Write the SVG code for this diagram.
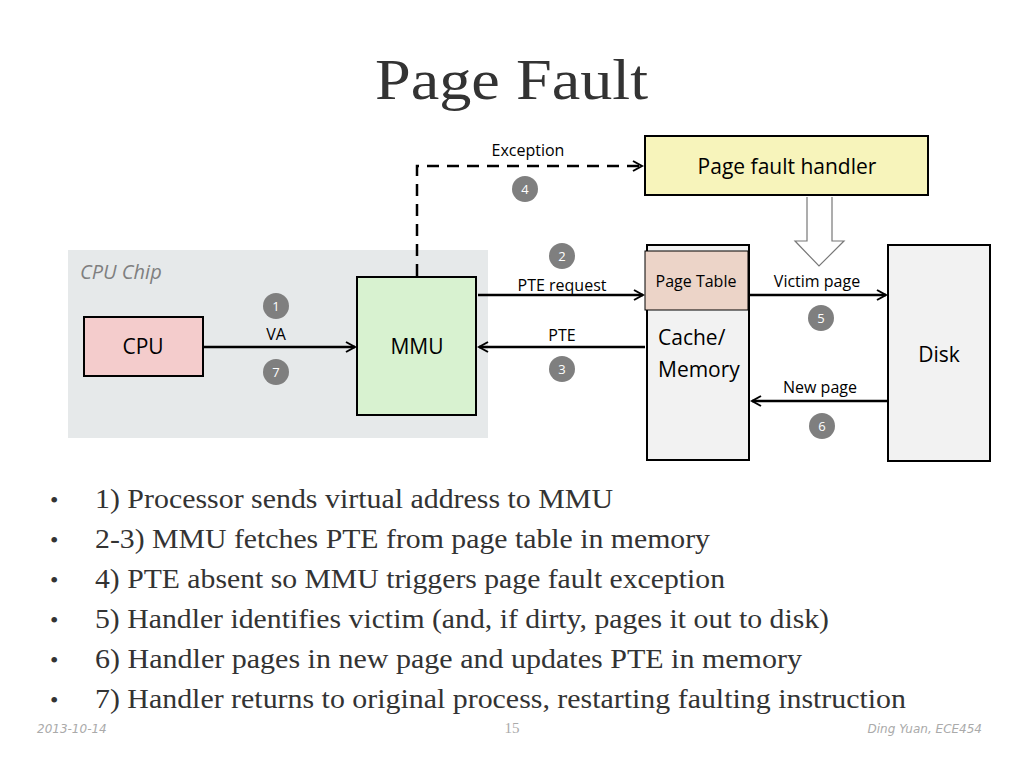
<svg xmlns="http://www.w3.org/2000/svg" width="1024" height="768" viewBox="0 0 1024 768">
<style>
.s{font-family:"Open Sans","Liberation Sans",sans-serif;fill:#000}
.t{font-family:"Liberation Serif",serif;fill:#333}
.box{stroke:#000;stroke-width:2}
.c{fill:#7f7f7f}
.n{font-family:"Open Sans","Liberation Sans",sans-serif;font-size:13px;fill:#fff;text-anchor:middle}
.ln{stroke:#000;stroke-width:2.5;fill:none}
</style>
<defs><marker id="a" markerWidth="12" markerHeight="12" refX="10" refY="6" orient="auto" markerUnits="userSpaceOnUse"><path d="M1,1 L10,6 L1,11" fill="none" stroke="#000" stroke-width="2"/></marker></defs>
<rect width="1024" height="768" fill="#fff"/>
<text class="t" x="375" y="99" font-size="58" textLength="273" lengthAdjust="spacingAndGlyphs">Page Fault</text>
<g id="chip"><rect x="68" y="250" width="420" height="188" fill="#e6e9ea"/><text class="s" x="80" y="279" font-size="20" font-style="italic" style="fill:#7f7f7f">CPU Chip</text></g>
<g id="cpu"><rect class="box" x="84" y="317" width="119" height="59" fill="#f4cccc" stroke-width="1"/><text class="s" x="143" y="354" font-size="21" text-anchor="middle">CPU</text></g>
<g id="mmu"><rect class="box" x="357" y="277" width="119" height="138" fill="#d8f2d0" stroke-width="1"/><text class="s" x="417" y="354" font-size="21" text-anchor="middle">MMU</text></g>
<g id="handler"><rect class="box" x="645" y="136" width="283" height="59" fill="#f7f4bb" stroke-width="1"/><text class="s" x="787" y="174" font-size="21" text-anchor="middle">Page fault handler</text></g>
<g id="mem"><rect class="box" x="647" y="245" width="102" height="215" fill="#f2f2f2"/><text class="s" x="658" y="345" font-size="21">Cache/</text><text class="s" x="658" y="377" font-size="21">Memory</text></g>
<g id="pt"><rect x="645" y="251" width="103" height="59" fill="#ecd4c8" stroke="#000" stroke-width="1"/><text class="s" x="696" y="287" font-size="16" text-anchor="middle">Page Table</text></g>
<g id="disk"><rect class="box" x="888" y="245" width="102" height="216" fill="#f2f2f2"/><text class="s" x="939" y="362" font-size="21" text-anchor="middle">Disk</text></g>
<g id="connectors">
<path class="ln" d="M203,347 H355" marker-end="url(#a)"/>
<path class="ln" d="M645,347 H479" marker-end="url(#a)"/>
<path class="ln" d="M478,295 H643" marker-end="url(#a)"/>
<path class="ln" stroke-dasharray="12,8" d="M417,276 V166 H642" marker-end="url(#a)"/>
<path class="ln" d="M750,295 H886" marker-end="url(#a)"/>
<path class="ln" d="M888,401 H752" marker-end="url(#a)"/>
<path d="M807,197 V241 H795 L819,266 L844,241 H832 V197" fill="#fff" stroke="#777" stroke-width="1.2"/>
</g>
<g id="labels">
<text class="s" x="528" y="156" font-size="16" text-anchor="middle">Exception</text>
<text class="s" x="562" y="291" font-size="16" text-anchor="middle">PTE request</text>
<text class="s" x="562" y="341" font-size="16" text-anchor="middle">PTE</text>
<text class="s" x="276" y="340" font-size="16" text-anchor="middle">VA</text>
<text class="s" x="817" y="287" font-size="16" text-anchor="middle">Victim page</text>
<text class="s" x="820" y="393" font-size="16" text-anchor="middle">New page</text>
<circle class="c" cx="525" cy="189" r="13"/><text class="n" x="525" y="194">4</text>
<circle class="c" cx="562" cy="256" r="13"/><text class="n" x="562" y="261">2</text>
<circle class="c" cx="276" cy="306" r="13"/><text class="n" x="276" y="311">1</text>
<circle class="c" cx="276" cy="372" r="13"/><text class="n" x="276" y="377">7</text>
<circle class="c" cx="562" cy="369" r="13"/><text class="n" x="562" y="374">3</text>
<circle class="c" cx="821" cy="318" r="13"/><text class="n" x="821" y="323">5</text>
<circle class="c" cx="822" cy="426" r="13"/><text class="n" x="822" y="431">6</text>
</g>
<g id="bullets" font-size="28">
<text class="t" x="50" y="508" font-size="24">•</text><text class="t" x="95" y="508" textLength="518" lengthAdjust="spacingAndGlyphs">1) Processor sends virtual address to MMU</text>
<text class="t" x="50" y="548" font-size="24">•</text><text class="t" x="95" y="548" textLength="615" lengthAdjust="spacingAndGlyphs">2-3) MMU fetches PTE from page table in memory</text>
<text class="t" x="50" y="588" font-size="24">•</text><text class="t" x="95" y="588" textLength="630" lengthAdjust="spacingAndGlyphs">4) PTE absent so MMU triggers page fault exception</text>
<text class="t" x="50" y="628" font-size="24">•</text><text class="t" x="95" y="628" textLength="734" lengthAdjust="spacingAndGlyphs">5) Handler identifies victim (and, if dirty, pages it out to disk)</text>
<text class="t" x="50" y="668" font-size="24">•</text><text class="t" x="95" y="668" textLength="707" lengthAdjust="spacingAndGlyphs">6) Handler pages in new page and updates PTE in memory</text>
<text class="t" x="50" y="708" font-size="24">•</text><text class="t" x="95" y="708" textLength="811" lengthAdjust="spacingAndGlyphs">7) Handler returns to original process, restarting faulting instruction</text>
</g>
<text x="37" y="733" font-family="DejaVu Sans,sans-serif" font-style="italic" font-size="12" fill="#aaa">2013-10-14</text>
<text x="512" y="733" font-family="Liberation Serif,serif" font-size="15" fill="#aaa" text-anchor="middle">15</text>
<text x="982" y="733" font-family="DejaVu Sans,sans-serif" font-style="italic" font-size="12" fill="#aaa" text-anchor="end">Ding Yuan, ECE454</text>
</svg>
